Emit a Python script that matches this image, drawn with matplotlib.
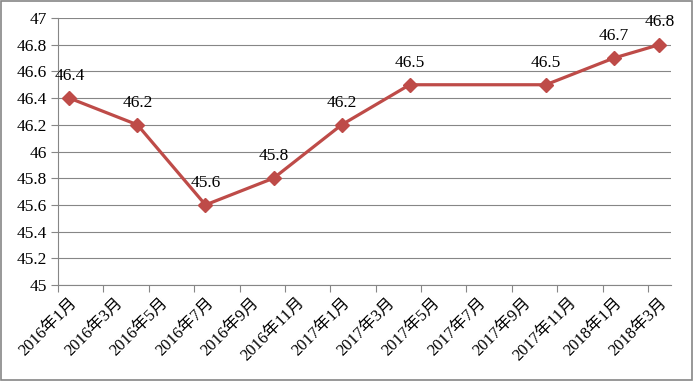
import matplotlib
matplotlib.use('Agg')
import matplotlib.pyplot as plt

plt.rcParams['font.family'] = ['Liberation Serif', 'Noto Sans CJK SC']

# 数据点（年, 月, 值）
years = [2016, 2016, 2016, 2016, 2017, 2017, 2017, 2018, 2018]
months = [1, 4, 7, 10, 1, 4, 10, 1, 3]
values = [46.4, 46.2, 45.6, 45.8, 46.2, 46.5, 46.5, 46.7, 46.8]

tick_labels = ['2016年1月', '2016年3月', '2016年5月', '2016年7月', '2016年9月',
               '2016年11月', '2017年1月', '2017年3月', '2017年5月', '2017年7月',
               '2017年9月', '2017年11月', '2018年1月', '2018年3月']

line_color = '#BE4B48'
grid_color = '#868686'

# 月份序号，点放在每个月的中间
x = [(y - 2016) * 12 + (m - 1) + 0.5 for y, m in zip(years, months)]
n_months = 27

fig = plt.figure(figsize=(6.93, 3.81), dpi=100)
ax = fig.add_axes([58 / 693, 1 - 285 / 381, (670.6 - 58) / 693, (285 - 18) / 381])

ax.plot(x, values, color=line_color, lw=2.3, marker='D', markersize=7,
        markerfacecolor=line_color, markeredgecolor=line_color, zorder=3)

for xi, v in zip(x, values):
    ax.annotate(f'{v:g}', (xi, v), xytext=(0, 16), textcoords='offset points',
                ha='center', va='center', fontsize=12.5)

ax.set_xlim(0, n_months)
ax.set_ylim(45, 47)
ax.set_yticks([45 + 0.2 * i for i in range(11)])
ax.set_yticklabels([f'{45 + 0.2 * i:.1f}'.rstrip('0').rstrip('.') for i in range(11)])

# 主刻度只画刻度线，标签放在次刻度（月中）
ax.set_xticks(range(0, n_months, 2))
ax.set_xticklabels([])
ax.set_xticks([i + 0.5 for i in range(0, n_months, 2)], minor=True)
ax.set_xticklabels(tick_labels, minor=True, rotation=45, ha='right',
                   rotation_mode='anchor', fontsize=12)
ax.tick_params(axis='x', which='minor', length=0, pad=7)
ax.tick_params(axis='x', which='major', length=5, color=grid_color, direction='out')
ax.tick_params(axis='y', length=5, color=grid_color, labelsize=12.5, pad=3)

ax.grid(axis='y', color=grid_color, lw=0.8)
ax.set_axisbelow(True)
for side in ['top', 'right']:
    ax.spines[side].set_visible(False)
for side in ['left', 'bottom']:
    ax.spines[side].set_color(grid_color)
    ax.spines[side].set_linewidth(0.8)

# 外框
fig.patches.append(plt.Rectangle((0.001, 0.002), 0.997, 0.995, transform=fig.transFigure,
                                 fill=False, edgecolor=grid_color, lw=1.2))

fig.savefig('out.png', dpi=100)
